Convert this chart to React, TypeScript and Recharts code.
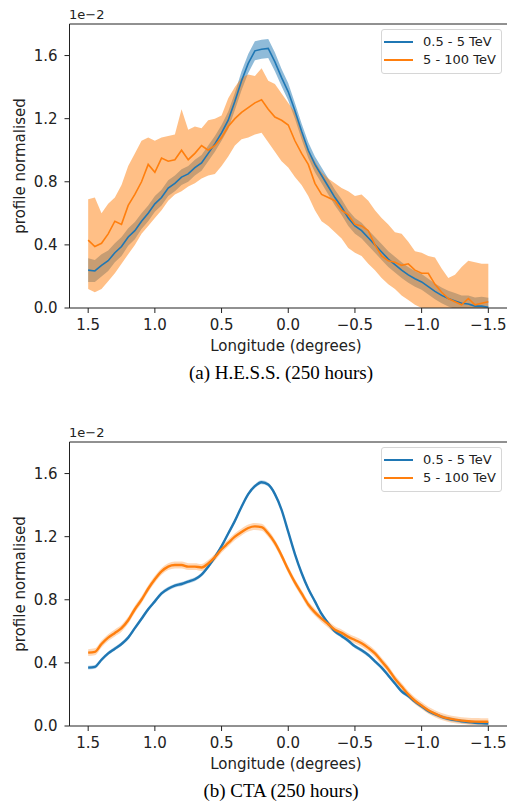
import React from 'react';
import { ComposedChart, Line, Area, XAxis, YAxis, ReferenceLine, Legend } from 'recharts';

// Galactic longitude (degrees), shared by both panels
const longitude = [
  1.5, 1.45, 1.4, 1.35, 1.3, 1.25, 1.2, 1.15, 1.1, 1.05,
  1.0, 0.95, 0.9, 0.85, 0.8, 0.75, 0.7, 0.65, 0.6, 0.55,
  0.5, 0.45, 0.4, 0.35, 0.3, 0.25, 0.2, 0.15, 0.1, 0.05,
  0.0, -0.05, -0.1, -0.15, -0.2, -0.25, -0.3, -0.35, -0.4, -0.45,
  -0.5, -0.55, -0.6, -0.65, -0.7, -0.75, -0.8, -0.85, -0.9, -0.95,
  -1.0, -1.05, -1.1, -1.15, -1.2, -1.25, -1.3, -1.35, -1.4, -1.45,
  -1.5,
];

const seriesLabels = ['0.5 - 5 TeV', '5 - 100 TeV'];
const xTicks = [1.5, 1.0, 0.5, 0.0, -0.5, -1.0, -1.5];
const yTicks = [0, 0.4, 0.8, 1.2, 1.6];

// (a) H.E.S.S. — values in units of 1e-2
const hessBlue = [
  0.24, 0.235, 0.27, 0.30, 0.35, 0.39, 0.45, 0.49, 0.55, 0.60,
  0.66, 0.70, 0.76, 0.79, 0.83, 0.85, 0.89, 0.92, 0.98, 1.04,
  1.11, 1.19, 1.31, 1.44, 1.55, 1.63, 1.64, 1.645, 1.56, 1.46,
  1.37, 1.25, 1.12, 1.00, 0.91, 0.84, 0.77, 0.70, 0.64, 0.57,
  0.52, 0.49, 0.445, 0.40, 0.355, 0.31, 0.275, 0.24, 0.21, 0.185,
  0.165, 0.135, 0.105, 0.08, 0.06, 0.045, 0.03, 0.025, 0.012, 0.012,
  0.005,
];
const hessBlueErr = [
  0.075, 0.07, 0.07, 0.065, 0.06, 0.06, 0.055, 0.055, 0.05, 0.05,
  0.05, 0.05, 0.05, 0.05, 0.05, 0.05, 0.05, 0.05, 0.05, 0.05,
  0.05, 0.055, 0.055, 0.06, 0.06, 0.06, 0.06, 0.06, 0.06, 0.055,
  0.055, 0.05, 0.05, 0.05, 0.05, 0.05, 0.05, 0.05, 0.05, 0.05,
  0.05, 0.05, 0.05, 0.05, 0.05, 0.05, 0.05, 0.05, 0.05, 0.05,
  0.05, 0.05, 0.05, 0.05, 0.05, 0.05, 0.05, 0.055, 0.055, 0.06,
  0.06,
];
const hessOrange = [
  0.43, 0.39, 0.41, 0.47, 0.55, 0.53, 0.65, 0.72, 0.80, 0.91,
  0.86, 0.95, 0.93, 0.94, 1.00, 0.94, 0.98, 1.03, 1.00, 1.03,
  1.08, 1.15, 1.20, 1.24, 1.27, 1.30, 1.32, 1.26, 1.21, 1.19,
  1.16, 1.06, 0.98, 0.91, 0.79, 0.72, 0.70, 0.68, 0.62, 0.59,
  0.53, 0.52, 0.49, 0.40, 0.33, 0.30, 0.29, 0.27, 0.28, 0.24,
  0.22, 0.22, 0.15, 0.10, 0.06, 0.04, 0.02, 0.06, 0.02, 0.03,
  0.04,
];
const hessOrangeHi = [
  0.69, 0.70, 0.60, 0.66, 0.70, 0.78, 0.90, 0.98, 1.06, 1.08,
  1.06, 1.08, 1.09, 1.10, 1.26, 1.13, 1.15, 1.14, 1.19, 1.20,
  1.22, 1.33, 1.40, 1.46, 1.48, 1.47, 1.52, 1.44, 1.42, 1.36,
  1.30, 1.24, 1.12, 1.00, 0.93, 0.86, 0.82, 0.79, 0.76, 0.74,
  0.71, 0.72, 0.68, 0.62, 0.57, 0.53, 0.48, 0.47, 0.42, 0.36,
  0.35, 0.33, 0.32, 0.25, 0.19, 0.21, 0.26, 0.30, 0.29, 0.28,
  0.28,
];
const hessOrangeLo = [
  0.12, 0.10, 0.12, 0.17, 0.22, 0.28, 0.34, 0.40, 0.47, 0.52,
  0.57, 0.62, 0.68, 0.72, 0.74, 0.77, 0.79, 0.82, 0.84, 0.85,
  0.90, 0.96, 1.03, 1.07, 1.08, 1.10, 1.11, 1.05, 0.99, 0.93,
  0.89, 0.83, 0.78, 0.71, 0.62, 0.55, 0.52, 0.48, 0.44, 0.38,
  0.35, 0.33, 0.28, 0.24, 0.19, 0.15, 0.12, 0.08, 0.05, 0.02,
  0.0, 0.0, 0.0, 0.0, 0.0, 0.0, 0.0, 0.0, 0.0, 0.0,
  0.0,
];

// (b) CTA — values in units of 1e-2
const ctaBlue = [
  0.37, 0.375, 0.42, 0.46, 0.49, 0.52, 0.56, 0.62, 0.68, 0.74,
  0.79, 0.84, 0.87, 0.89, 0.90, 0.915, 0.93, 0.96, 1.01, 1.07,
  1.14, 1.22, 1.30, 1.39, 1.47, 1.52, 1.545, 1.53, 1.47, 1.37,
  1.23, 1.09, 0.97, 0.87, 0.79, 0.71, 0.65, 0.60, 0.57, 0.54,
  0.505, 0.48, 0.45, 0.41, 0.37, 0.32, 0.27, 0.22, 0.19, 0.155,
  0.125, 0.095, 0.075, 0.058, 0.046, 0.037, 0.03, 0.025, 0.021, 0.018,
  0.016,
];
const ctaBlueErr = [
  0.012, 0.012, 0.012, 0.012, 0.012, 0.012, 0.012, 0.012, 0.012, 0.012,
  0.012, 0.012, 0.012, 0.012, 0.012, 0.012, 0.012, 0.012, 0.012, 0.012,
  0.012, 0.012, 0.012, 0.012, 0.012, 0.012, 0.012, 0.012, 0.012, 0.012,
  0.012, 0.012, 0.012, 0.012, 0.012, 0.012, 0.012, 0.012, 0.012, 0.012,
  0.012, 0.012, 0.012, 0.012, 0.012, 0.012, 0.012, 0.012, 0.012, 0.012,
  0.012, 0.012, 0.012, 0.012, 0.012, 0.012, 0.012, 0.012, 0.012, 0.012,
  0.012,
];
const ctaOrange = [
  0.465, 0.47, 0.52, 0.56, 0.59, 0.62, 0.67, 0.74, 0.80, 0.87,
  0.93, 0.98, 1.01, 1.02, 1.02, 1.01, 1.01, 1.005, 1.03, 1.07,
  1.12, 1.16, 1.20, 1.23, 1.255, 1.265, 1.26, 1.22, 1.16, 1.08,
  0.99, 0.91, 0.84, 0.77, 0.72, 0.68, 0.645, 0.61, 0.59, 0.565,
  0.545, 0.525, 0.495, 0.46, 0.41, 0.36, 0.30, 0.25, 0.20, 0.16,
  0.13, 0.10, 0.078, 0.06, 0.048, 0.04, 0.034, 0.03, 0.028, 0.027,
  0.027,
];
const ctaOrangeErr = [
  0.022, 0.022, 0.022, 0.022, 0.022, 0.022, 0.022, 0.022, 0.022, 0.022,
  0.022, 0.022, 0.022, 0.022, 0.022, 0.022, 0.022, 0.022, 0.022, 0.022,
  0.022, 0.022, 0.022, 0.022, 0.022, 0.022, 0.022, 0.022, 0.022, 0.022,
  0.022, 0.022, 0.022, 0.022, 0.022, 0.022, 0.022, 0.022, 0.022, 0.022,
  0.022, 0.022, 0.022, 0.022, 0.022, 0.022, 0.022, 0.022, 0.022, 0.022,
  0.022, 0.022, 0.022, 0.022, 0.022, 0.022, 0.022, 0.022, 0.022, 0.022,
  0.022,
];

const hessRows = longitude.map((lon, i) => ({
  lon,
  blue: hessBlue[i],
  blueBand: [hessBlue[i] - hessBlueErr[i], hessBlue[i] + hessBlueErr[i]],
  orange: hessOrange[i],
  orangeBand: [hessOrangeLo[i], hessOrangeHi[i]],
}));

const ctaRows = longitude.map((lon, i) => ({
  lon,
  blue: ctaBlue[i],
  blueBand: [ctaBlue[i] - ctaBlueErr[i], ctaBlue[i] + ctaBlueErr[i]],
  orange: ctaOrange[i],
  orangeBand: [ctaOrange[i] - ctaOrangeErr[i], ctaOrange[i] + ctaOrangeErr[i]],
}));

const BLUE = '#1f77b4';
const ORANGE = '#ff7f0e';
const INK = '#222';
const SANS = '"DejaVu Sans", sans-serif';

const fmtX = (v: number) => {
  if (Math.abs(v) < 1e-9) return '0.0';
  return v < 0 ? '\u2212' + Math.abs(v).toFixed(1) : v.toFixed(1);
};
const fmtY = (v: number) => v.toFixed(1);

function LegendBox() {
  const colors = [BLUE, ORANGE];
  return (
    <div
      style={{
        width: 119,
        height: 43,
        border: '1px solid #d6d6d6',
        borderRadius: 3,
        background: 'rgba(255,255,255,0.85)',
        position: 'relative',
        fontFamily: SANS,
        fontSize: 13,
        color: INK,
      }}
    >
      {seriesLabels.map((label, i) => (
        <div key={label} style={{ position: 'absolute', left: 0, top: 11.5 + i * 18.6 - 9, height: 18, width: 119 }}>
          <div style={{ position: 'absolute', left: 2, top: 8, width: 29, height: 2, background: colors[i] }} />
          <div style={{ position: 'absolute', left: 41, top: 0, lineHeight: '18px', whiteSpace: 'nowrap' }}>{label}</div>
        </div>
      ))}
    </div>
  );
}

type PanelProps = {
  rows: any[];
  top: number;
  caption: string;
  smooth: boolean;
  lineWidth: number;
  bandOpacity: number;
};

function Panel({ rows, top, caption, smooth, lineWidth, bandOpacity }: PanelProps) {
  const curve = smooth ? 'monotone' : 'linear';
  return (
    <div style={{ position: 'absolute', left: 0, top, width: 507, height: 390 }}>
      <ComposedChart width={507} height={360} data={rows} margin={{ top: 24, right: 0, bottom: 0, left: 0 }}>
        <XAxis
          type="number"
          dataKey="lon"
          domain={[-1.64, 1.64]}
          reversed
          allowDataOverflow
          ticks={xTicks}
          tickFormatter={fmtX}
          height={52}
          tickSize={5}
          tickMargin={6}
          stroke={INK}
          tick={{ fill: INK, fontSize: 15, fontFamily: SANS }}
          interval={0}
        />
        <YAxis
          type="number"
          domain={[0, 1.8]}
          allowDataOverflow
          ticks={yTicks}
          tickFormatter={fmtY}
          width={69.5}
          tickSize={5}
          tickMargin={7}
          stroke={INK}
          tick={{ fill: INK, fontSize: 15, fontFamily: SANS }}
          interval={0}
        />
        <ReferenceLine y={1.8} stroke={INK} strokeWidth={1} />
        <Area
          type={curve}
          dataKey="blueBand"
          stroke="none"
          fill={BLUE}
          fillOpacity={bandOpacity}
          isAnimationActive={false}
          activeDot={false}
          legendType="none"
        />
        <Line
          type={curve}
          dataKey="blue"
          stroke={BLUE}
          strokeWidth={lineWidth}
          dot={false}
          activeDot={false}
          isAnimationActive={false}
        />
        <Area
          type={curve}
          dataKey="orangeBand"
          stroke="none"
          fill={ORANGE}
          fillOpacity={bandOpacity}
          isAnimationActive={false}
          activeDot={false}
          legendType="none"
        />
        <Line
          type={curve}
          dataKey="orange"
          stroke={ORANGE}
          strokeWidth={lineWidth}
          dot={false}
          activeDot={false}
          isAnimationActive={false}
        />
        <Legend
          layout="vertical"
          align="center"
          verticalAlign="middle"
          wrapperStyle={{ left: 381, top: 29, width: 121, height: 45 }}
          content={() => <LegendBox />}
        />
      </ComposedChart>
      <div style={{ position: 'absolute', left: 69, top: 7, fontFamily: SANS, fontSize: 13, color: INK, lineHeight: '16px' }}>
        1e{'\u2212'}2
      </div>
      <div
        style={{
          position: 'absolute',
          left: 20,
          top: 166,
          transform: 'translate(-50%, -50%) rotate(-90deg)',
          fontFamily: SANS,
          fontSize: 15,
          color: INK,
          whiteSpace: 'nowrap',
          lineHeight: '18px',
        }}
      >
        profile normalised
      </div>
      <div
        style={{
          position: 'absolute',
          left: 286,
          top: 346,
          transform: 'translate(-50%, -50%)',
          fontFamily: SANS,
          fontSize: 15,
          color: INK,
          whiteSpace: 'nowrap',
          lineHeight: '18px',
        }}
      >
        Longitude (degrees)
      </div>
      <div
        style={{
          position: 'absolute',
          left: 281,
          top: 373,
          transform: 'translate(-50%, -50%)',
          fontFamily: '"Liberation Serif", "Times New Roman", serif',
          fontSize: 19,
          color: '#000',
          whiteSpace: 'nowrap',
          lineHeight: '22px',
        }}
      >
        {caption}
      </div>
    </div>
  );
}

export default function App() {
  return (
    <div style={{ position: 'absolute', left: 0, top: 0, width: 507, height: 801, background: '#fff', overflow: 'hidden' }}>
      <Panel rows={hessRows} top={0} caption="(a) H.E.S.S. (250 hours)" smooth={false} lineWidth={1.6} bandOpacity={0.5} />
      <Panel rows={ctaRows} top={418} caption="(b) CTA (250 hours)" smooth={true} lineWidth={2.4} bandOpacity={0.3} />
    </div>
  );
}
